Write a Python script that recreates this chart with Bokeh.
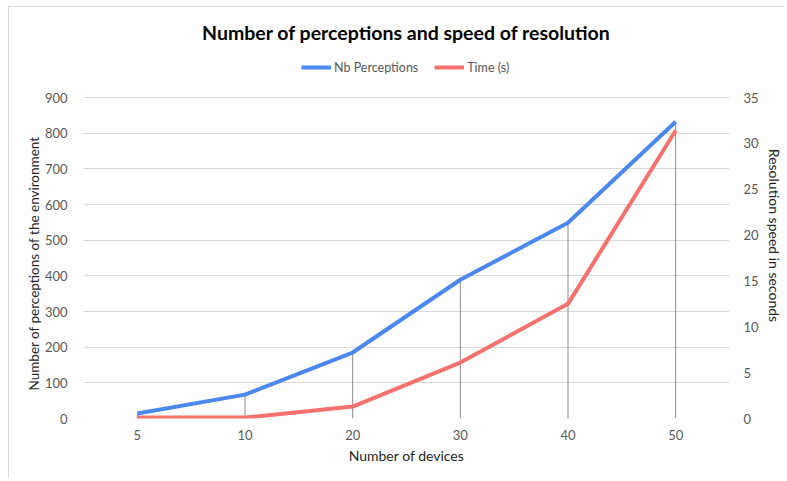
from bokeh.plotting import figure
from bokeh.models import (FactorRange, Range1d, LinearAxis, Legend, LegendItem,
                          FixedTicker, Title)
from bokeh.embed import file_html
from bokeh.resources import INLINE

devices = ["5", "10", "20", "30", "40", "50"]
perceptions = [14, 67, 185, 389, 549, 832]
time_s = [0.1, 0.1, 1.3, 6.1, 12.5, 31.4]
left_ticks = [0, 100, 200, 300, 400, 500, 600, 700, 800, 900]
right_ticks = [0, 5, 10, 15, 20, 25, 30, 35]

FONT = "Lato"
GRAY = "#595959"

# frame extends above the 900 gridline to leave room for the legend
LEFT_MAX = 900
TOP_EXTRA = 366 / 321  # frame height / height of the 0..900 part
p = figure(width=776, height=472, x_range=FactorRange(factors=devices),
           y_range=Range1d(0, LEFT_MAX * TOP_EXTRA), output_backend="svg",
           toolbar_location=None,
           min_border_left=74, min_border_right=49, min_border_top=45, min_border_bottom=61,
           title="Number of perceptions and speed of resolution")
p.extra_y_ranges = {"time": Range1d(0, 35 * TOP_EXTRA)}
p.outline_line_color = None
p.styles = {"margin-left": "8px", "margin-top": "6px",
            "border-left": "1px solid #d9d9d9", "border-top": "1px solid #d9d9d9"}

p.title.align = "center"
p.title.text_font = FONT
p.title.text_font_size = "19.5px"
p.title.text_font_style = "bold"
p.title.text_color = "#000000"
p.title.standoff = 18

# drop lines
p.segment(x0=devices, y0=[0] * len(devices), x1=devices, y1=perceptions,
          line_color="#8c8c8c", line_width=1)

r1 = p.line(devices, perceptions, line_color="#4a88ee", line_width=4)
r2 = p.line(devices, time_s, line_color="#f4716e", line_width=4, y_range_name="time")

# axes
p.yaxis.ticker = FixedTicker(ticks=left_ticks)
right = LinearAxis(y_range_name="time", ticker=FixedTicker(ticks=right_ticks),
                   axis_label="Resolution speed in seconds")
p.add_layout(right, "right")
right.axis_label_orientation = "vertical"
p.xaxis.axis_label = "Number of devices"

for ax in [p.xaxis[0], p.yaxis[0], right]:
    ax.axis_line_color = None
    ax.major_tick_line_color = None
    ax.minor_tick_line_color = None
    ax.major_label_text_font = FONT
    ax.major_label_text_font_size = "13px"
    ax.major_label_text_color = GRAY
    ax.axis_label_text_font = FONT
    ax.axis_label_text_font_size = "14px"
    ax.axis_label_text_font_style = "normal"
    ax.axis_label_text_color = "#262626"
    ax.major_label_standoff = 10
p.xaxis.major_label_standoff = 5
p.xaxis.axis_label_standoff = 4
right.major_label_standoff = 8
right.axis_label_standoff = 4

left_title = Title(text="Number of perceptions of the environment", align="left",
                   offset=28, text_font=FONT, text_font_size="13.5px",
                   text_font_style="normal", text_color="#262626", standoff=0)
p.add_layout(left_title, "left")

p.xgrid.grid_line_color = None
p.ygrid.grid_line_color = "#d9d9d9"
p.ygrid.grid_line_width = 1

legend = Legend(items=[LegendItem(label="Nb Perceptions", renderers=[r1]),
                       LegendItem(label="Time (s)", renderers=[r2])],
                orientation="horizontal", location=(218, 343),
                label_text_font=FONT, label_text_font_size="12.5px",
                label_text_color=GRAY, glyph_width=30, glyph_height=16,
                label_height=16, label_standoff=3,
                spacing=16, border_line_color=None, background_fill_alpha=0,
                padding=0, margin=0)
p.add_layout(legend, "center")

open("out.html", "w").write(file_html(p, INLINE))
